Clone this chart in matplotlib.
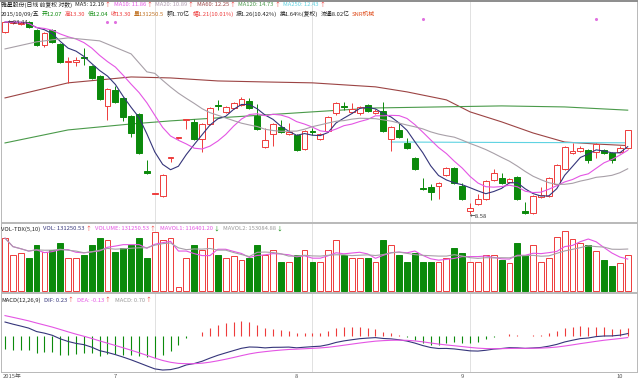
import numpy as np
import pandas as pd
import matplotlib
matplotlib.use("Agg")
import matplotlib.pyplot as plt
import matplotlib.transforms as mtrans
from matplotlib.ticker import NullLocator

plt.rcParams['font.family'] = ['Noto Sans CJK SC', 'DejaVu Sans']

# daily candles, 2015-06-10 .. 2015-10-09 (forward adjusted)
opens = [22.14, 23.20, 23.08, 23.32, 22.37, 20.69, 22.37, 20.80, 18.94, 18.94,
         19.44, 18.55, 17.61, 15.06, 16.37, 15.70, 14.30, 14.44, 10.73, 9.52,
         9.42, 11.49, 12.75, 14.00, 13.86, 12.68, 13.71, 15.14, 14.60, 14.90,
         15.14, 15.46, 14.30, 12.16, 13.02, 13.50, 13.02, 12.95, 12.04, 13.22,
         12.68, 13.22, 14.52, 15.06, 14.60, 14.52, 15.14, 14.52, 14.67, 12.68,
         13.29, 12.42, 11.49, 9.82, 9.88, 9.93, 10.51, 10.90, 9.93, 8.72,
         9.04, 9.28, 10.24, 10.35, 10.14, 10.40, 8.72, 8.63, 9.38, 9.42,
         10.03, 10.85, 11.79, 11.91, 11.98, 11.85, 11.98, 11.79, 11.85, 12.07]
highs = [23.32, 23.44, 23.32, 23.38, 22.49, 22.14, 22.49, 20.91, 19.44, 19.44,
         20.37, 18.64, 17.70, 16.54, 16.71, 15.78, 14.37, 14.52, 11.37, 9.57,
         10.57, 11.55, 12.81, 14.07, 14.07, 13.78, 14.98, 15.54, 15.06, 15.38,
         15.78, 15.70, 15.22, 13.43, 13.78, 14.00, 13.78, 13.02, 13.29, 13.43,
         13.08, 14.30, 15.38, 15.38, 15.30, 15.06, 15.22, 14.83, 15.38, 13.57,
         13.78, 12.75, 11.55, 10.35, 10.03, 10.14, 10.96, 10.96, 10.08, 9.09,
         9.52, 10.24, 10.85, 10.62, 10.35, 10.46, 9.13, 9.47, 9.88, 10.40,
         11.13, 12.23, 12.42, 12.23, 12.04, 12.42, 12.04, 11.85, 12.23, 13.30]
lows = [22.02, 23.08, 22.96, 22.61, 20.58, 20.48, 20.91, 18.84, 16.98, 18.55,
        18.64, 17.33, 15.54, 14.00, 15.30, 13.93, 12.81, 11.73, 10.57, 9.50,
        9.38, 11.25, 12.68, 13.36, 12.62, 11.85, 13.64, 14.75, 14.52, 14.83,
        15.06, 14.83, 13.29, 12.10, 12.23, 13.08, 12.95, 11.91, 11.98, 12.95,
        12.62, 13.15, 14.37, 14.75, 14.52, 14.37, 14.60, 14.44, 13.15, 11.91,
        12.75, 12.04, 10.79, 9.72, 9.23, 9.28, 10.46, 10.03, 9.23, 8.58,
        8.99, 9.23, 10.19, 10.03, 10.08, 9.23, 8.60, 8.60, 9.33, 9.38,
        9.98, 10.79, 11.73, 11.85, 11.19, 11.49, 11.73, 11.19, 11.79, 12.04]
closes = [23.30, 23.32, 23.20, 22.72, 20.69, 22.02, 21.02, 18.94, 19.04, 19.13,
          19.34, 17.42, 15.62, 16.45, 15.38, 14.22, 13.08, 11.79, 10.62, 9.55,
          10.51, 11.55, 12.78, 14.07, 12.68, 13.71, 14.90, 15.06, 14.98, 15.30,
          15.62, 14.90, 13.36, 12.62, 13.71, 13.15, 13.15, 11.98, 13.22, 13.15,
          13.02, 14.22, 15.30, 14.98, 14.83, 14.98, 14.67, 14.67, 13.22, 13.50,
          12.81, 12.10, 10.85, 9.77, 9.62, 10.08, 10.90, 10.08, 9.28, 8.85,
          9.28, 10.19, 10.62, 10.08, 10.30, 9.28, 8.63, 9.42, 9.47, 10.35,
          11.07, 12.16, 11.91, 12.10, 11.37, 12.36, 11.79, 11.37, 12.09, 13.30]
volumes = [193000, 131000, 139000, 120000, 168000, 142000, 150000, 175000, 120000, 120000,
           131000, 168000, 193000, 186000, 142000, 157000, 168000, 193000, 120000, 215000,
           186000, 193000, 15000, 120000, 168000, 150000, 193000, 131000, 120000, 128000,
           113000, 120000, 168000, 131000, 150000, 106000, 106000, 131000, 150000, 106000,
           106000, 150000, 186000, 131000, 120000, 120000, 120000, 106000, 186000, 168000,
           131000, 106000, 139000, 106000, 106000, 106000, 120000, 157000, 139000, 106000,
           106000, 131000, 131000, 113000, 102000, 175000, 131000, 168000, 106000, 120000,
           197000, 219000, 190000, 175000, 168000, 146000, 113000, 91000, 102000, 131250.53]

# long averages (need history before the window)
ma20_head_idx = [0, 4, 8, 12, 16, 18]
ma20_head_val = [20.26, 21.02, 21.46, 21.13, 19.74, 17.98]
ma60_idx = [0, 8, 12, 16, 21, 27, 33, 39, 47, 51, 56, 59, 63, 67, 71, 75, 79]
ma60_val = [15.70, 16.98, 17.24, 17.51, 17.42, 17.15, 17.06, 16.98, 16.63, 16.20,
            15.54, 14.60, 13.86, 13.08, 12.48, 12.35, 12.25]
ma120_idx = [0, 8, 16, 21, 27, 33, 39, 47, 55, 63, 71, 79]
ma120_val = [12.42, 13.29, 13.71, 13.93, 14.15, 14.37, 14.60, 14.90, 14.98, 15.06, 14.98, 14.73]
ma250_idx = [49, 64, 79]
ma250_val = [12.48, 12.45, 12.43]
# MACD state carried in from before the window
dif_seed = 1.5
dea_seed = 2.0

month_pos = [14, 37, 58, 78]
month_labels = ['7', '8', '9', '10']
grid_pos = [19, 39, 59]
event_idx = [13, 14, 53, 75]

RED = '#ee3b3b'
GREEN = '#0b8a0b'
NAVY = '#35357a'
MAG = '#e455e4'
GRAY = '#a8a0a8'
DARK = '#222222'

n = len(closes)
x = np.arange(n)
o, h, l, c = (np.array(v) for v in (opens, highs, lows, closes))
cs = pd.Series(closes)
ma5 = cs.rolling(5, min_periods=1).mean()
ma10 = cs.rolling(10, min_periods=1).mean()
ma20 = cs.rolling(20).mean()
ma20_x = ma20_head_idx + list(range(19, n))
ma20_y = ma20_head_val + list(ma20[19:])

vs = pd.Series(volumes)
mavol1 = vs.rolling(5, min_periods=1).mean()
mavol2 = vs.rolling(10, min_periods=1).mean()

# MACD(12,26,9)
a12, a26, a9 = 2 / 13, 2 / 27, 2 / 10
e12, e26, d = closes[0] + dif_seed, closes[0], dea_seed
dif, dea = [], []
for p in closes:
    e12 = a12 * p + (1 - a12) * e12
    e26 = a26 * p + (1 - a26) * e26
    d = a9 * (e12 - e26) + (1 - a9) * d
    dif.append(e12 - e26)
    dea.append(d)
dif, dea = np.array(dif), np.array(dea)
macd = 2 * (dif - dea)

W, H = 640, 380
fig = plt.figure(figsize=(6.4, 3.8), dpi=100)


def box(top, bottom, left=1, right=637):
    return [left / W, 1 - bottom / H, (right - left) / W, (bottom - top) / H]


ax = fig.add_axes(box(1, 222))
axv = fig.add_axes(box(223, 292), sharex=ax)
axm = fig.add_axes(box(293, 372), sharex=ax)

up = c >= o
col = np.where(up, RED, GREEN)
face = np.where(up, 'white', GREEN)

# price panel (log scale)
ax.set_yscale('log')
ax.vlines(x, l, h, colors=col, lw=0.7, zorder=2)
ax.bar(x, np.abs(c - o), bottom=np.minimum(o, c), width=0.74, color=face,
       edgecolor=col, lw=0.7, zorder=3)
ax.plot(x, ma5, color=NAVY, lw=0.8, zorder=4)
ax.plot(x, ma10, color=MAG, lw=0.8, zorder=4)
ax.plot(ma20_x, ma20_y, color=GRAY, lw=0.8, zorder=4)
ax.plot(ma60_idx, ma60_val, color='#9c4444', lw=0.8, zorder=1)
ax.plot(ma120_idx, ma120_val, color='#4a9a4a', lw=0.8, zorder=1)
ax.plot(ma250_idx, ma250_val, color='#5fd3e2', lw=0.8, zorder=1)
ax.set_ylim(8.23, 26.0)
ax.text(0.4, 23.2, '←23.44', fontsize=4.2, va='center', color='#333333', zorder=6)
ax.text(59, 8.45, '←8.58', fontsize=4.2, va='center', color='#333333', zorder=6)
trans = mtrans.blended_transform_factory(ax.transData, ax.transAxes)
ax.scatter(event_idx[:2], [0.905, 0.905], s=1.5, color='#e070e0', transform=trans, zorder=6)
ax.scatter(event_idx[2:], [0.92, 0.92], s=1.5, color='#e070e0', transform=trans, zorder=6)

# volume panel
axv.bar(x, volumes, width=0.74, color=face, edgecolor=col, lw=0.7, zorder=3)
axv.plot(x, mavol1, color=MAG, lw=0.8, zorder=4)
axv.plot(x, mavol2, color=GRAY, lw=0.8, zorder=4)
axv.set_ylim(-3650, 248200)

# macd panel
axm.vlines(x, 0, macd, colors=np.where(macd >= 0, RED, GREEN), lw=0.8, zorder=2)
axm.plot(x, dif, color=NAVY, lw=0.8, zorder=3)
axm.plot(x, dea, color=MAG, lw=0.8, zorder=3)
mn = min(dif.min(), macd.min())
span = -mn / 0.431
axm.set_ylim(-0.456 * span, 0.544 * span)

ax.set_xlim(-0.51, 80.18)
for a in (ax, axv, axm):
    for g in grid_pos:
        a.axvline(g, color='#dcdcdc', lw=0.6, zorder=0)
    a.tick_params(which='both', left=False, bottom=False, labelleft=False, labelbottom=False)
    a.yaxis.set_minor_locator(NullLocator())
    for s in a.spines.values():
        s.set_color('#b8b8b8')
        s.set_linewidth(0.7)
ax.spines['top'].set_color('#8c8c8c')
ax.spines['top'].set_linewidth(1.4)

renderer = fig.canvas.get_renderer()


def text_row(x0, y0, parts, size=4.2):
    xp = x0
    for s, colr, gap in parts:
        t = fig.text(xp / W, 1 - y0 / H, s, color=colr, fontsize=size, ha='left', va='center')
        xp += t.get_window_extent(renderer).width + gap


text_row(1, 5, [('雅星股份(日线 前复权 对数)', DARK, 3),
                ('MA5: 12.19', DARK, 0.5), ('↑', RED, 3),
                ('MA10: 11.86', MAG, 0.5), ('↑', RED, 3),
                ('MA20: 10.89', '#b09cb0', 0.5), ('↑', RED, 3),
                ('MA60: 12.25', '#9c4444', 0.5), ('↑', RED, 3),
                ('MA120: 14.73', '#4a9a4a', 0.5), ('↑', RED, 3),
                ('MA250: 12.43', '#5fd3e2', 0.5), ('↑', RED, 0)])
text_row(1, 14, [('2015/10/09/五', DARK, 2.5), ('开12.07', GREEN, 2.5), ('高13.30', RED, 2.5),
                 ('低12.04', GREEN, 2.5), ('收13.30', RED, 2.5), ('量131250.5', '#c07020', 2.5),
                 ('额1.70亿', DARK, 2.5), ('幅1.21(10.01%)', RED, 2.5),
                 ('振1.26(10.42%)', DARK, 2.5), ('换1.64%(复权)', DARK, 2.5),
                 ('流通8.02亿', DARK, 2.5), ('SNR机械', '#e05020', 0)])
text_row(1, 229, [('VOL-TDX(5,10)', DARK, 3), ('VOL: 131250.53', NAVY, 0.5), ('↑', RED, 4),
                  ('VOLUME: 131250.53', MAG, 0.5), ('↑', RED, 4),
                  ('MAVOL1: 116401.20', MAG, 0.5), ('↓', GREEN, 4),
                  ('MAVOL2: 153084.88', '#999999', 0.5), ('↓', GREEN, 0)])
text_row(1, 300, [('MACD(12,26,9)', DARK, 3), ('DIF: 0.23', NAVY, 0.5), ('↑', RED, 4),
                  ('DEA: -0.13', MAG, 0.5), ('↑', RED, 4),
                  ('MACD: 0.70', '#999999', 0.5), ('↑', RED, 0)])

# date row
fig.text(3 / W, 1 - 376 / H, '2015年', fontsize=4.2, color='#555555', ha='left', va='center')
for p, lab in zip(month_pos, month_labels):
    xf = ax.transData.transform((p, 10))[0] / fig.dpi / 6.4
    fig.text(xf, 1 - 376 / H, lab, fontsize=4.2, color='#555555', ha='center', va='center')

fig.savefig('out.png', dpi=100, facecolor='white')
